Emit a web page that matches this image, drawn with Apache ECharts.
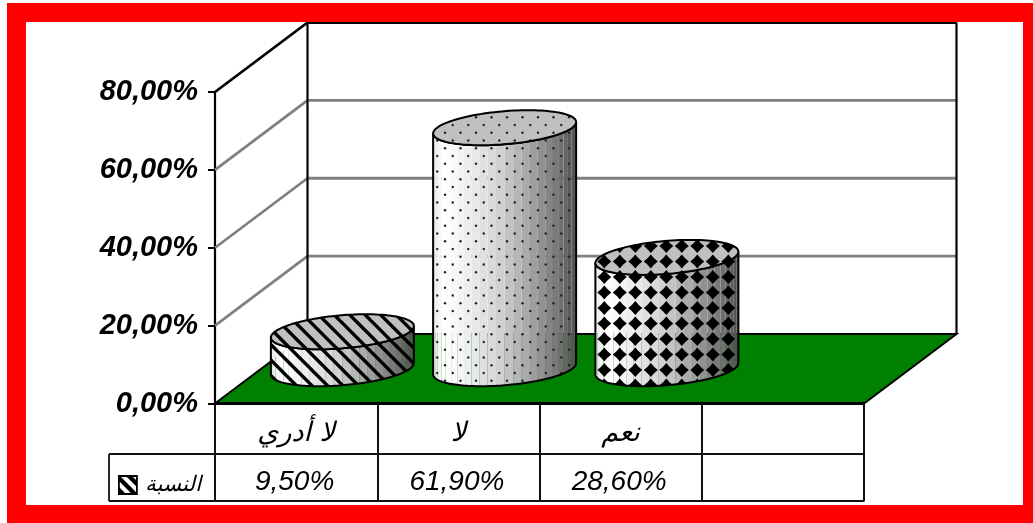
<!DOCTYPE html>
<html><head><meta charset="utf-8">
<style>html,body{margin:0;padding:0;background:#fff}#c{width:1033px;height:523px}</style>
<script src="https://cdn.jsdelivr.net/npm/echarts@6/dist/echarts.min.js"></script>
</head><body><div id="c"></div>
<script>
const categories = ['لا أدري', 'لا', 'نعم', ''];
const values = [9.5, 61.9, 28.6];
const yTicks = [0, 20, 40, 60, 80];
const seriesName = 'النسبة';
const patternNames = ['stripes', 'dots', 'diamonds'];

function tile(w, h, draw) {
  const c = document.createElement('canvas');
  c.width = w; c.height = h;
  draw(c.getContext('2d'), w, h);
  return { image: c, repeat: 'repeat' };
}
const patterns = {
  stripes: tile(31, 31, (g, w, h) => {
    g.strokeStyle = '#000'; g.lineWidth = 3.4;
    for (let k = -4; k <= 4; k++) {
      const c = 3.8 + k * 15.5;
      g.beginPath(); g.moveTo(c - 3, -3); g.lineTo(c + w + 3, h + 3); g.stroke();
    }
  }),
  dots: tile(31, 31, (g) => {
    g.fillStyle = '#222';
    for (let i = -1; i < 4; i++) for (let j = -1; j < 6; j++) {
      const x = 11 + i * 15.5 + (j % 2 ? 7.75 : 0), y = 8.8 + j * 7.75;
      g.beginPath(); g.arc(x, y, 1.2, 0, 7); g.fill();
    }
  }),
  diamonds: tile(31, 31, (g) => {
    g.fillStyle = '#000';
    for (let i = -1; i < 4; i++) for (let j = -1; j < 4; j++) {
      const x = -0.2 + i * 15.5, y = 13.6 + j * 15.5, r = 7, q = 3;
      g.beginPath(); g.moveTo(x - r, y);
      g.quadraticCurveTo(x - q, y - q, x, y - r);
      g.quadraticCurveTo(x + q, y - q, x + r, y);
      g.quadraticCurveTo(x + q, y + q, x, y + r);
      g.quadraticCurveTo(x - q, y + q, x - r, y);
      g.fill();
    }
  })
};
const swatch = tile(19, 19, (g, w, h) => {
  g.fillStyle = '#fff'; g.fillRect(0, 0, w, h);
  g.strokeStyle = '#000'; g.lineWidth = 4.4;
  for (let k = -1; k <= 1; k++) { g.beginPath(); g.moveTo(k * 12 - 4, -2); g.lineTo(k * 12 + 21, h + 4); g.stroke(); }
});

const depth = [92.5, -69.5];
const barHalf = 67.6, depthHalfY = 17.5;
const depthHalfX = depthHalfY * depth[0] / -depth[1];
const strips = 26;

function shade(f) {
  const st = [[0, 232], [0.07, 255], [0.14, 250], [0.45, 212], [0.72, 155], [0.9, 110], [1, 78]];
  for (let i = 1; i < st.length; i++) if (f <= st[i][0]) {
    const a = st[i - 1], b = st[i];
    const v = Math.round(a[1] + (b[1] - a[1]) * (f - a[0]) / (b[0] - a[0]));
    return 'rgb(' + v + ',' + v + ',' + v + ')';
  }
  return 'rgb(78,78,78)';
}

function renderCylinder(params, api) {
  const i = api.value(0), v = api.value(1);
  const base = api.coord([i, 0]), top = api.coord([i, v]);
  const cx = base[0] + depth[0] / 2, by = base[1] + depth[1] / 2, ty = top[1] + depth[1] / 2;
  const pt = (t, y) => [cx + barHalf * Math.cos(t) + depthHalfX * Math.sin(t), y - depthHalfY * Math.sin(t)];
  const t0 = Math.atan2(depthHalfX, barHalf);
  const ext = Math.hypot(barHalf, depthHalfX);
  const kids = [];
  for (let k = 0; k < strips; k++) {
    const t = t0 - Math.PI * k / strips, tn = t0 - Math.PI * (k + 1) / strips;
    const xm = pt((t + tn) / 2, by)[0];
    kids.push({ type: 'polygon', shape: { points: [pt(t, ty), pt(tn, ty), pt(tn, by), pt(t, by)] },
      style: { fill: shade((xm - (cx - ext)) / (2 * ext)), stroke: null } });
  }
  const fine = [];
  for (let k = 0; k <= 90; k++) fine.push(t0 - Math.PI * k / 90);
  const pat = patterns[patternNames[i]];
  const outline = fine.map(t => pt(t, ty)).concat(fine.slice().reverse().map(t => pt(t, by)));
  kids.push({ type: 'polygon', shape: { points: outline }, style: { fill: pat, stroke: '#000', lineWidth: 2 } });
  const cap = [];
  for (let k = 0; k < 120; k++) cap.push(pt(k / 120 * 2 * Math.PI, ty));
  kids.push({ type: 'polygon', shape: { points: cap }, style: { fill: '#c0c0c0', stroke: null } });
  kids.push({ type: 'polygon', shape: { points: cap }, style: { fill: pat, stroke: '#000', lineWidth: 2 } });
  return { type: 'group', children: kids };
}

function renderWall(params, api) {
  const v = api.value(1), s = params.coordSys;
  const y = api.coord([0, v])[1], x0 = s.x, x1 = s.x + s.width;
  const bx0 = x0 + depth[0], bx1 = x1 + depth[0], by = y + depth[1];
  const kids = [];
  const line = (a, b, c, d, col, w) => kids.push({ type: 'line', shape: { x1: a, y1: b, x2: c, y2: d }, style: { stroke: col, lineWidth: w } });
  if (v === 0) {
    kids.push({ type: 'polygon', shape: { points: [[x0, y], [x1, y], [bx1, by], [bx0, by]] },
      style: { fill: '#008000', stroke: '#000', lineWidth: 2 } });
    line(x0, y, x1, y, '#000', 2.8);
    const rowA = y + 50.5, rowB = y + 97.5, keyL = 109;
    line(keyL, rowA, x1, rowA, '#111', 2);
    line(keyL, rowB, x1, rowB, '#111', 2);
    line(keyL, rowA, keyL, rowB, '#111', 1.8);
  } else {
    const top = v === yTicks[yTicks.length - 1];
    const col = top ? '#000' : '#808080';
    line(x0, y, bx0, by, col, 2.8);
    line(bx0, by, bx1, by, col, 2.8);
    if (top) {
      const fy = api.coord([0, 0])[1] + depth[1];
      line(bx0, by, bx0, fy, '#000', 2.2);
      line(bx1, by, bx1, fy, '#000', 2.2);
    }
  }
  return { type: 'group', children: kids };
}

const pctText = v => v.toFixed(2).replace('.', ',') + '%';
const chart = echarts.init(document.getElementById('c'), null, { renderer: 'canvas' });
chart.setOption({
  animation: false,
  backgroundColor: '#fff',
  grid: { left: 215, top: 92, width: 649, height: 311.5, containLabel: false },
  graphic: [{ type: 'rect', silent: true, z: 100, shape: { x: 16.5, y: 12.5, width: 1016, height: 502 },
    style: { fill: 'none', stroke: '#ff0000', lineWidth: 19 } }],
  legend: { show: true, left: 118, top: 474, padding: 0, itemWidth: 18, itemHeight: 18, selectedMode: false,
    data: [{ name: seriesName, icon: 'rect', itemStyle: { color: swatch, borderColor: '#000', borderWidth: 1.8 } }],
    textStyle: { fontFamily: '"DejaVu Sans"', fontStyle: 'italic', fontSize: 21.5, color: '#000', padding: [0, 0, 0, 3] } },
  xAxis: {
    type: 'category', data: categories, boundaryGap: true,
    axisLine: { show: true, lineStyle: { color: '#000', width: 2 } },
    axisTick: { show: true, interval: 0, alignWithLabel: false, length: 98, lineStyle: { color: '#111', width: 2 } },
    axisLabel: { interval: 0, margin: 1, hideOverlap: false,
      formatter: (val, idx) => val === '' ? '' : '{cat|' + val + '}\n{val|' + pctText(values[idx]) + '}',
      rich: {
        cat: { fontFamily: '"DejaVu Sans"', fontStyle: 'italic', fontSize: 27, lineHeight: 58, color: '#000' },
        val: { fontFamily: '"Liberation Sans"', fontStyle: 'italic', fontSize: 28, lineHeight: 39, color: '#000', padding: [0, 3, 0, 0] }
      } }
  },
  yAxis: {
    type: 'value', min: 0, max: 80, interval: 20, splitLine: { show: false },
    axisLine: { show: true, lineStyle: { color: '#000', width: 2.2 } },
    axisTick: { show: true, length: 7, lineStyle: { color: '#000', width: 2 } },
    axisLabel: { margin: 17, fontFamily: '"Liberation Sans"', fontWeight: 'bold', fontStyle: 'italic', fontSize: 29, color: '#000',
      padding: [5, 0, 0, 0], formatter: v => pctText(v) }
  },
  tooltip: { show: false },
  series: [
    { type: 'custom', name: 'walls', z: 1, silent: true, clip: false, renderItem: renderWall,
      data: yTicks.map(v => [0, v]), encode: { x: 0, y: 1 } },
    { type: 'custom', name: seriesName, z: 2, silent: true, clip: false, renderItem: renderCylinder,
      data: values.map((v, i) => [i, v]), encode: { x: 0, y: 1 } }
  ]
});
</script></body></html>
